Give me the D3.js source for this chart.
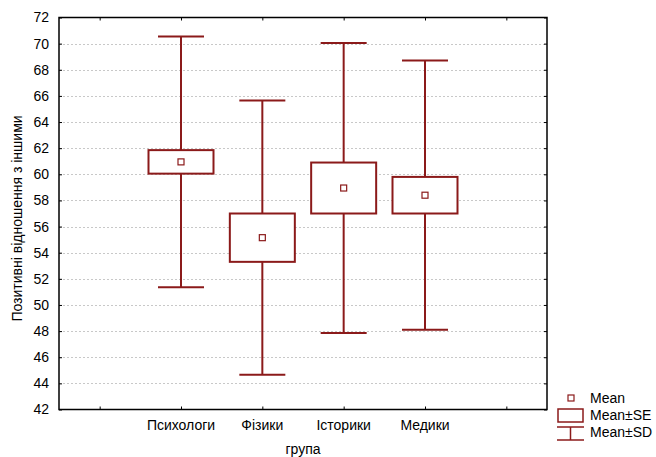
<!DOCTYPE html>
<html><head><meta charset="utf-8">
<script src="https://cdn.jsdelivr.net/npm/d3@7"></script>
<style>body{margin:0;background:#fff;} svg{display:block;font-family:"Liberation Sans",Arial,sans-serif;}</style>
</head><body>
<svg id="chart" width="656" height="457"></svg>
<script>
const categories = ["Психологи", "Фізики", "Історики", "Медики"];
const means = [60.95, 55.15, 58.95, 58.4];
const se = [0.9, 1.85, 1.95, 1.4];
const sd = [9.6, 10.5, 11.1, 10.3];
const yTicks = [42,44,46,48,50,52,54,56,58,60,62,64,66,68,70,72];
const legendLabels = ["Mean", "Mean±SE", "Mean±SD"];

(function () {
const color = "#8b1a1a";
const svg = d3.select("#chart");
const pL = 59, pR = 547, pT = 17.5, pB = 409.5;

const x = d3.scaleLinear().domain([-0.5, 5.5]).range([pL, pR]);
const y = d3.scaleLinear().domain([42, 72]).range([pB, pT]);

// grid
svg.append("g").selectAll("line").data(yTicks.filter(t => t > 42 && t < 72)).join("line")
  .attr("x1", pL).attr("x2", pR)
  .attr("y1", d => Math.round(y(d)) + 0.5).attr("y2", d => Math.round(y(d)) + 0.5)
  .attr("stroke", "#c8c8c8").attr("stroke-dasharray", "2,2").attr("stroke-width", 1);

// axes (inward ticks)
const tickLen = 3;
const xt = d3.range(0, 6);
svg.append("g").attr("transform", `translate(0,${pB})`)
  .call(d3.axisBottom(x).tickValues(xt).tickSize(-tickLen).tickFormat(""))
  .call(g => g.select(".domain").remove());
svg.append("g").attr("transform", `translate(0,${pT})`)
  .call(d3.axisTop(x).tickValues(xt).tickSize(-tickLen).tickFormat(""))
  .call(g => g.select(".domain").remove());
svg.append("g").attr("transform", `translate(${pL},0)`)
  .call(d3.axisLeft(y).tickValues(yTicks).tickSize(-tickLen).tickPadding(10))
  .call(g => g.select(".domain").remove())
  .call(g => g.selectAll("text").attr("font-size", 14).attr("fill", "#000").attr("font-family", "Liberation Sans, Arial, sans-serif"));
svg.append("g").attr("transform", `translate(${pR},0)`)
  .call(d3.axisRight(y).tickValues(yTicks).tickSize(-tickLen).tickFormat(""))
  .call(g => g.select(".domain").remove());
svg.selectAll(".tick line").attr("stroke", "#000");

// frame
svg.append("rect").attr("x", pL).attr("y", pT).attr("width", pR - pL).attr("height", pB - pT)
  .attr("fill", "none").attr("stroke", "#000").attr("stroke-width", 1.5);

// category labels
svg.append("g").selectAll("text").data(categories).join("text")
  .attr("x", (d, i) => x(i + 1)).attr("y", 430).attr("text-anchor", "middle")
  .attr("font-size", 14).text(d => d);

svg.append("text").attr("x", x(2.5)).attr("y", 454).attr("text-anchor", "middle").attr("font-size", 14).text("група");
svg.append("text").attr("transform", `translate(22,${(pT + pB) / 2 + 5}) rotate(-90)`)
  .attr("text-anchor", "middle").attr("font-size", 14).text("Позитивні відношення з іншими");

// boxes
const boxW = 65, capW = 46, mk = 6;
const g = svg.append("g").selectAll("g").data(categories).join("g");
g.append("line").attr("x1", (d, i) => x(i + 1)).attr("x2", (d, i) => x(i + 1))
  .attr("y1", (d, i) => y(means[i] + sd[i])).attr("y2", (d, i) => y(means[i] + se[i]))
  .attr("stroke", color).attr("stroke-width", 2);
g.append("line").attr("x1", (d, i) => x(i + 1)).attr("x2", (d, i) => x(i + 1))
  .attr("y1", (d, i) => y(means[i] - se[i])).attr("y2", (d, i) => y(means[i] - sd[i]))
  .attr("stroke", color).attr("stroke-width", 2);
g.append("line").attr("x1", (d, i) => x(i + 1) - capW / 2).attr("x2", (d, i) => x(i + 1) + capW / 2)
  .attr("y1", (d, i) => y(means[i] + sd[i])).attr("y2", (d, i) => y(means[i] + sd[i]))
  .attr("stroke", color).attr("stroke-width", 2);
g.append("line").attr("x1", (d, i) => x(i + 1) - capW / 2).attr("x2", (d, i) => x(i + 1) + capW / 2)
  .attr("y1", (d, i) => y(means[i] - sd[i])).attr("y2", (d, i) => y(means[i] - sd[i]))
  .attr("stroke", color).attr("stroke-width", 2);
g.append("rect").attr("x", (d, i) => x(i + 1) - boxW / 2).attr("width", boxW)
  .attr("y", (d, i) => y(means[i] + se[i])).attr("height", (d, i) => y(means[i] - se[i]) - y(means[i] + se[i]))
  .attr("fill", "#fff").attr("stroke", color).attr("stroke-width", 2);
g.append("rect").attr("x", (d, i) => x(i + 1) - mk / 2).attr("width", mk)
  .attr("y", (d, i) => y(means[i]) - mk / 2).attr("height", mk)
  .attr("fill", "#fff").attr("stroke", color).attr("stroke-width", 1.2);

// legend
const lg = svg.append("g");
lg.append("rect").attr("x", 568).attr("y", 395).attr("width", 6).attr("height", 6)
  .attr("fill", "#fff").attr("stroke", color).attr("stroke-width", 1.2);
lg.append("rect").attr("x", 558).attr("y", 409).attr("width", 25).attr("height", 13)
  .attr("fill", "#fff").attr("stroke", color).attr("stroke-width", 1.5);
lg.append("line").attr("x1", 557).attr("x2", 584).attr("y1", 427).attr("y2", 427).attr("stroke", color).attr("stroke-width", 1.5);
lg.append("line").attr("x1", 557).attr("x2", 584).attr("y1", 440).attr("y2", 440).attr("stroke", color).attr("stroke-width", 1.5);
lg.append("line").attr("x1", 570.5).attr("x2", 570.5).attr("y1", 427).attr("y2", 440).attr("stroke", color).attr("stroke-width", 1.5);
lg.selectAll("text").data(legendLabels).join("text")
  .attr("x", 590).attr("y", (d, i) => 403 + i * 17).attr("font-size", 14).text(d => d);
})();
</script>
</body></html>
